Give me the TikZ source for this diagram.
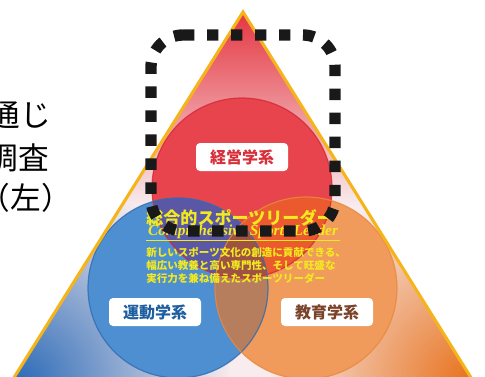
\documentclass[tikz,border=0pt]{standalone}
\usepackage{fontspec}
\setmainfont{Liberation Serif}
\newfontfamily\jp{Noto Sans CJK JP}
\usetikzlibrary{fadings}

\definecolor{triRed}{HTML}{E4343F}
\definecolor{triPink}{HTML}{F2B4BA}
\definecolor{bgPale}{HTML}{F8ECEE}
\definecolor{triBlue}{HTML}{2E6CB8}
\definecolor{triOrange}{HTML}{E8731E}
\definecolor{triEdge}{HTML}{F4B41A}
\definecolor{cRed}{HTML}{E8444D}
\definecolor{cRedEdge}{HTML}{D42836}
\definecolor{cBlue}{HTML}{4E8FD2}
\definecolor{cBlueEdge}{HTML}{2F6CB0}
\definecolor{cOrange}{HTML}{F09A5C}
\definecolor{cOrangeEdge}{HTML}{E9883E}
\definecolor{ovRB}{HTML}{5A57A6}
\definecolor{ovRO}{HTML}{EA5A2E}
\definecolor{ovBO}{HTML}{B67E5C}
\definecolor{ovAll}{HTML}{9E5244}
\definecolor{labRed}{HTML}{D8303A}
\definecolor{labBlue}{HTML}{1E5FA0}
\definecolor{labBrown}{HTML}{7A4228}
\definecolor{yel}{HTML}{F2EA1E}

\tikzfading[name=cornerfade, inner color=transparent!0, outer color=transparent!100]

\tikzset{
  deptbox/.style={fill=white, rounded corners=3pt, minimum width=69pt,
    minimum height=21pt, inner sep=0pt, font=\jp\bfseries\fontsize{12}{12}\selectfont},
  sidetext/.style={anchor=east, inner sep=0pt, text=black, font=\jp\fontsize{23}{23}\selectfont},
  bodytext/.style={anchor=west, inner sep=0pt, text=yel, font=\jp\bfseries\fontsize{7.9}{8}\selectfont},
  dotline/.style={line width=8.5pt, dash pattern=on 8.5pt off 9.5pt, rounded corners=24pt, black!90},
}

\begin{document}
\begin{tikzpicture}[x=0.75pt,y=0.75pt]
\useasboundingbox (0,0) rectangle (485,376);
\clip (0,0) rectangle (485,376);

% corners of the big triangle
\coordinate (apex) at (243,364);
\coordinate (bl) at (8.7,-10);
\coordinate (br) at (476.2,-10);

% circle centres
\coordinate (R) at (242,188);
\coordinate (B) at (178,88);
\coordinate (O) at (306,88);

% triangle background: red top, blue and orange corners
\begin{scope}
  \clip (apex) -- (bl) -- (br) -- cycle;
  \fill[bgPale] (0,-10) rectangle (485,376);
  \shade[top color=triRed, middle color=triPink, bottom color=bgPale] (0,170) rectangle (485,366);
  \fill[triBlue, path fading=cornerfade] (20,-5) circle (210);
  \fill[triOrange, path fading=cornerfade] (468,-5) circle (200);
\end{scope}

% the three circles
\fill[cRed] (R) circle (90);
\fill[cBlue] (B) circle (90);
\fill[cOrange] (O) circle (91);

% overlaps
\begin{scope}
  \clip (R) circle (90);
  \fill[ovRB] (B) circle (90);
  \fill[ovRO] (O) circle (91);
\end{scope}
\begin{scope}
  \clip (B) circle (90);
  \fill[ovBO] (O) circle (91);
\end{scope}
\begin{scope}
  \clip (R) circle (90);
  \clip (B) circle (90);
  \fill[ovAll] (O) circle (91);
\end{scope}

% circle outlines
\draw[cRedEdge, line width=0.9pt, opacity=0.8] (R) circle (90);
\draw[cBlueEdge, line width=0.9pt, opacity=0.8] (B) circle (90);
\draw[cOrangeEdge, line width=0.9pt, opacity=0.8] (O) circle (91);

% triangle edge
\draw[triEdge, line width=2.3pt, line join=miter] (bl) -- (apex) -- (br);

% department labels
\node[deptbox, text=labRed] (keiei) at (242,219) {経営学系};
\node[deptbox, text=labBlue] (undo) at (155,64) {運動学系};
\node[deptbox, text=labBrown] (kyoiku) at (327,64) {教育学系};

% central caption
\node[inner sep=0pt, text=yel, font=\jp\bfseries\fontsize{12.8}{13}\selectfont] (title) at (240,158) {総合的スポーツリーダー};
\node[inner sep=1pt, text=yel, font=\bfseries\itshape\fontsize{11.5}{12}\selectfont] (eng) at (243,144) {Comprehensive Sports Leader};
\draw[yel, line width=0.8pt] (eng.south west) -- (eng.south east);
\node[bodytext] (l1) at (146,124) {新しいスポーツ文化の創造に貢献できる、};
\node[bodytext] (l2) at (146,111) {幅広い教養と高い専門性、そして旺盛な};
\node[bodytext] (l3) at (146,98) {実行力を兼ね備えたスポーツリーダー};

% side text
\node[sidetext] (s1) at (51,261) {通じ};
\node[sidetext] (s2) at (49,218) {調査};
\node[sidetext] (s3) at (72,178) {（左）};

% dotted frame
\draw[dotline] (151,341) -- (335,341) -- (335,145) -- (151,145) -- cycle;
\end{tikzpicture}
\end{document}
